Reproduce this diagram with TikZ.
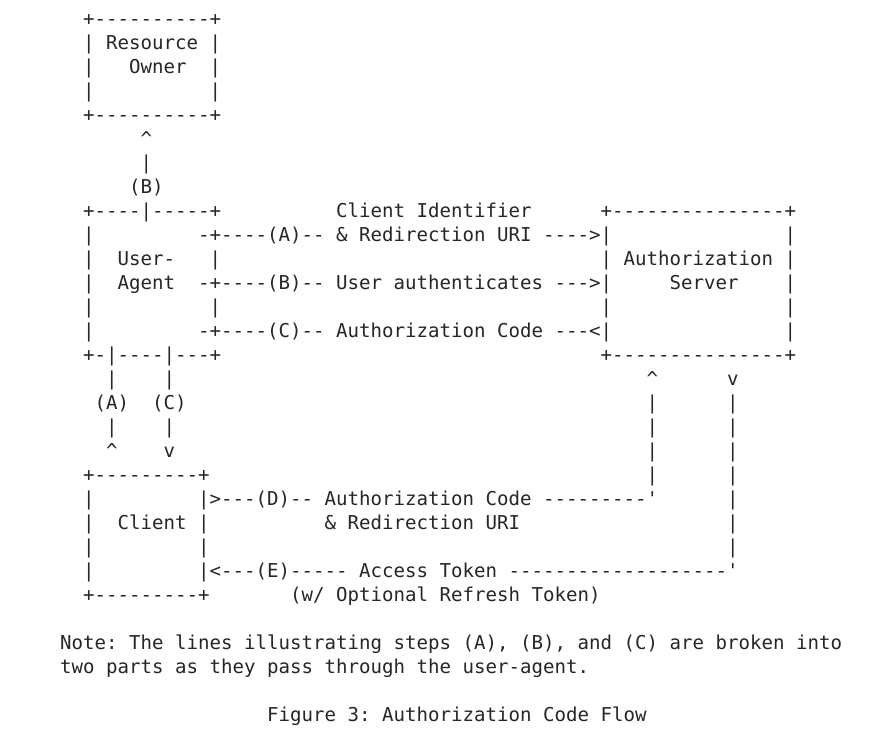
\documentclass[tikz,border=0pt]{standalone}
\usepackage{fontspec}
\setmonofont{DejaVu Sans Mono}
\definecolor{ink}{HTML}{262626}
\newcounter{lnc}
\newcommand\at[3]{\stepcounter{lnc}\node[txt] (t\arabic{lnc}) at ({25.5+#2*11.5},{718-24*#1}) {#3};}
\newcommand\caret{\textasciicircum}
\begin{document}
\begin{tikzpicture}[x=1pt,y=1pt,
  txt/.style={anchor=base west,inner sep=0pt,text=ink,font=\ttfamily\fontsize{19.1}{24}\selectfont}]
\useasboundingbox[fill=white] (0,0) rectangle (889,744);
\at{0}{5}{+----------+}
\at{1}{5}{| Resource |}
\at{2}{5}{|}\at{2}{9}{Owner}\at{2}{16}{|}
\at{3}{5}{|}\at{3}{16}{|}
\at{4}{5}{+----------+}
\at{5}{10}{\caret}
\at{6}{10}{|}
\at{7}{9}{(B)}
\at{8}{5}{+----|-----+}\at{8}{27}{Client Identifier}\at{8}{50}{+---------------+}
\at{9}{5}{|}\at{9}{15}{-+----(A)-- \& Redirection URI ---->|}\at{9}{66}{|}
\at{10}{5}{|}\at{10}{8}{User-}\at{10}{16}{|}\at{10}{50}{| Authorization |}
\at{11}{5}{|}\at{11}{8}{Agent}\at{11}{15}{-+----(B)-- User authenticates --->|}\at{11}{56}{Server}\at{11}{66}{|}
\at{12}{5}{|}\at{12}{16}{|}\at{12}{50}{|}\at{12}{66}{|}
\at{13}{5}{|}\at{13}{15}{-+----(C)-- Authorization Code ---<|}\at{13}{66}{|}
\at{14}{5}{+-|----|---+}\at{14}{50}{+---------------+}
\at{15}{7}{|}\at{15}{12}{|}\at{15}{54}{\caret}\at{15}{61}{v}
\at{16}{6}{(A)}\at{16}{11}{(C)}\at{16}{54}{|}\at{16}{61}{|}
\at{17}{7}{|}\at{17}{12}{|}\at{17}{54}{|}\at{17}{61}{|}
\at{18}{7}{\caret}\at{18}{12}{v}\at{18}{54}{|}\at{18}{61}{|}
\at{19}{5}{+---------+}\at{19}{54}{|}\at{19}{61}{|}
\at{20}{5}{|}\at{20}{15}{|>---(D)-- Authorization Code ---------'}\at{20}{61}{|}
\at{21}{5}{|}\at{21}{8}{Client |}\at{21}{26}{\& Redirection URI}\at{21}{61}{|}
\at{22}{5}{|}\at{22}{15}{|}\at{22}{61}{|}
\at{23}{5}{|}\at{23}{15}{|<---(E)----- Access Token -------------------'}
\at{24}{5}{+---------+}\at{24}{23}{(w/ Optional Refresh Token)}
\at{26}{3}{Note: The lines illustrating steps (A), (B), and (C) are broken into}
\at{27}{3}{two parts as they pass through the user-agent.}
\at{29}{21}{Figure 3: Authorization Code Flow}
\end{tikzpicture}
\end{document}
